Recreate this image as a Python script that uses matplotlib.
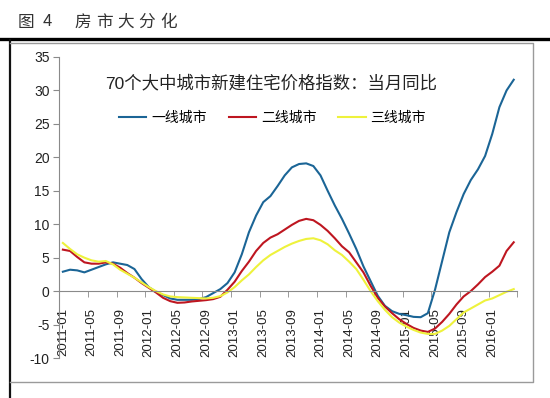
"""Fig 4: 70-city new home price index YoY, tier 1/2/3 cities (2011-01 .. 2016-04)."""
import matplotlib; matplotlib.use("Agg"); import matplotlib.pyplot as plt
from matplotlib.lines import Line2D
import pandas as pd

plt.rcParams["font.family"] = ["Liberation Sans", "Noto Sans CJK SC"]

months = pd.date_range("2011-01", "2016-04", freq="MS").strftime("%Y-%m").tolist()
tier1 = [2.9, 3.2, 3.1, 2.8, 3.2, 3.6, 4.0, 4.3, 4.1, 3.9, 3.3, 1.8, 0.6, -0.1, -0.6, -1.1,
         -1.3, -1.3, -1.3, -1.2, -0.9, -0.3, 0.3, 1.2, 2.8, 5.5, 8.8, 11.3, 13.3, 14.2, 15.7, 17.3,
         18.5, 19.0, 19.1, 18.7, 17.3, 15.0, 12.8, 10.8, 8.6, 6.3, 3.7, 1.5, -0.7, -2.2, -3.0, -3.4,
         -3.6, -3.85, -3.9, -3.3, 0.2, 4.5, 8.8, 11.8, 14.5, 16.6, 18.2, 20.2, 23.5, 27.5, 30.0, 31.6]
tier2 = [6.2, 6.0, 5.1, 4.3, 4.1, 4.1, 4.3, 4.1, 3.5, 2.7, 2.0, 1.2, 0.5, -0.2, -1.0, -1.5,
         -1.75, -1.7, -1.55, -1.45, -1.35, -1.2, -0.85, 0.2, 1.4, 3.0, 4.4, 6.0, 7.2, 8.0, 8.5, 9.2,
         9.9, 10.5, 10.8, 10.6, 9.9, 9.0, 7.9, 6.7, 5.8, 4.3, 2.8, 0.8, -1.0, -2.3, -3.3, -4.2,
         -4.9, -5.5, -5.9, -6.1, -5.6, -4.6, -3.4, -2.0, -0.8, 0.0, 1.0, 2.1, 2.9, 3.8, 6.0, 7.3]
tier3 = [7.2, 6.3, 5.5, 5.0, 4.6, 4.4, 4.5, 4.0, 3.2, 2.6, 2.0, 1.3, 0.6, 0.0, -0.5, -0.8,
         -0.9, -0.95, -1.0, -1.05, -1.1, -1.0, -0.75, -0.2, 0.6, 1.6, 2.5, 3.6, 4.6, 5.4, 6.0, 6.6,
         7.1, 7.5, 7.8, 7.9, 7.6, 7.0, 6.1, 5.4, 4.4, 3.3, 1.7, 0.0, -1.5, -2.8, -3.9, -4.7,
         -5.3, -5.8, -6.2, -6.4, -6.4, -5.9, -5.2, -4.2, -3.2, -2.6, -2.0, -1.4, -1.1, -0.6, -0.1, 0.3]
names = ["一线城市", "二线城市", "三线城市"]
colors = ["#1B6596", "#BE1620", "#EEF23C"]
yticks = list(range(-10, 40, 5))

fig = plt.figure(figsize=(5.5, 3.98), dpi=100)
W, H = 550, 398

# page decoration: heading, thick rule, chart frame
heading = ["图", "4", "", "房", "市", "大", "分", "化"]
hx = [26, 47, 0, 83, 104.5, 125.5, 147, 169]
for ch, x in zip(heading, hx):
    if ch:
        fig.text(x / W, 1 - 22 / H, ch, ha="center", va="center", fontsize=12,
                 family=["Noto Sans CJK SC"], color="#333333")
fig.add_artist(Line2D([0, 1], [1 - 39 / H] * 2, color="black", lw=2.4))
fig.add_artist(Line2D([10 / W, 10 / W], [1 - 40 / H, 0], color="#111111", lw=1.6))
fig.add_artist(Line2D([10 / W, 533 / W, 533 / W, 10 / W], [1 - 43 / H, 1 - 43 / H, 1 - 382 / H, 1 - 382 / H],
                      color="#9a9a9a", lw=1.0))

ax = fig.add_axes([59.3 / W, 40 / H, (517.3 - 59.3) / W, (358 - 57) / H])
x = list(range(len(months)))
for vals, c, n in zip([tier1, tier2, tier3], colors, names):
    ax.plot(x, vals, color=c, lw=1.5, label=n)

ax.set_xlim(-0.5, len(months) - 0.5)
ax.set_ylim(-10, 35)
ax.set_yticks(yticks)
ax.set_yticklabels([str(v) for v in yticks], fontsize=10, color="#222222")
for s in ["top", "right"]:
    ax.spines[s].set_visible(False)
ax.spines["left"].set_color("#8a8a8a")
ax.spines["bottom"].set_position(("data", 0))
ax.spines["bottom"].set_color("#8a8a8a")
ax.tick_params(axis="y", length=4, color="#8a8a8a", pad=3)

ax.set_xticks(x[::4])
ax.set_xticklabels(months[::4], rotation=90, fontsize=9.5, color="#222222")
ax.set_xticks([i - 0.5 for i in range(0, len(months) + 1, 4)], minor=True)
ax.tick_params(axis="x", which="major", length=0, pad=12)
ax.tick_params(axis="x", which="minor", length=4, color="#8a8a8a")

fig.text(271 / W, 1 - 83 / H, "70个大中城市新建住宅价格指数：当月同比", ha="center", va="center",
         fontsize=12.5, color="#222222")
ax.legend(loc="center", bbox_to_anchor=((272.5 - 59.3) / (517.3 - 59.3), (358 - 118) / (358 - 57)),
          ncol=3, frameon=False, fontsize=10, handlelength=1.95, columnspacing=1.6, handletextpad=0.35)

fig.savefig("out.png", dpi=100)
